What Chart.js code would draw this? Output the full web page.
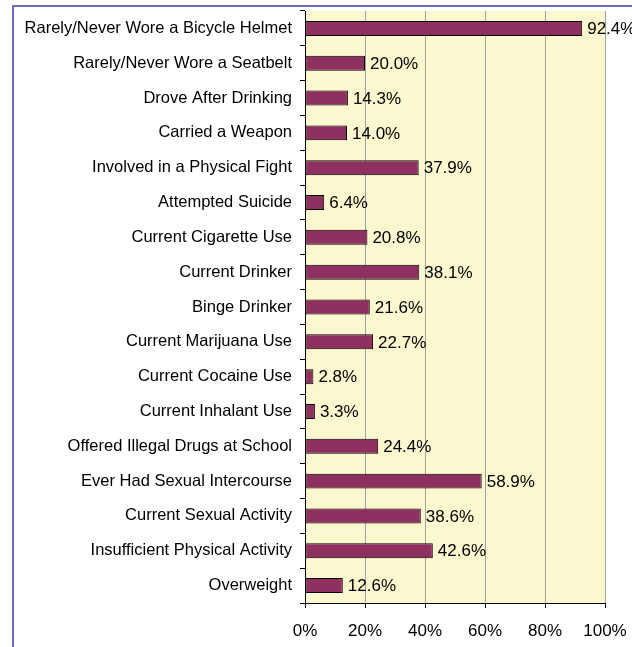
<!DOCTYPE html>
<html>
<head>
<meta charset="utf-8">
<script src="https://cdn.jsdelivr.net/npm/chart.js@4/dist/chart.umd.min.js"></script>
<style>
  html, body { margin: 0; padding: 0; background: #ffffff; }
  #wrap { position: relative; width: 632px; height: 647px; overflow: hidden; }
  #frame { position: absolute; left: 12px; top: 5px; width: 700px; height: 700px;
           border-left: 2px solid #6b6bc0; border-top: 2px solid #6b6bc0; box-sizing: border-box; }
  canvas { position: absolute; left: 0; top: 0; }
</style>
</head>
<body>
<div id="wrap">
  <div id="frame"></div>
  <canvas id="c" width="632" height="647"></canvas>
</div>
<script>
const categories = [
  "Rarely/Never Wore a Bicycle Helmet",
  "Rarely/Never Wore a Seatbelt",
  "Drove After Drinking",
  "Carried a Weapon",
  "Involved in a Physical Fight",
  "Attempted Suicide",
  "Current Cigarette Use",
  "Current Drinker",
  "Binge Drinker",
  "Current Marijuana Use",
  "Current Cocaine Use",
  "Current Inhalant Use",
  "Offered Illegal Drugs at School",
  "Ever Had Sexual Intercourse",
  "Current Sexual Activity",
  "Insufficient Physical Activity",
  "Overweight"
];
const values = [92.4, 20.0, 14.3, 14.0, 37.9, 6.4, 20.8, 38.1, 21.6, 22.7, 2.8, 3.3, 24.4, 58.9, 38.6, 42.6, 12.6];
const xTickValues = [0, 20, 40, 60, 80, 100];

const FONT = "'Liberation Sans', Arial, sans-serif";

const plotBg = {
  id: 'plotBg',
  beforeDraw(chart) {
    const a = chart.chartArea, ctx = chart.ctx;
    ctx.save();
    ctx.fillStyle = '#fbf7cf';
    ctx.fillRect(a.left, a.top, a.right - a.left, a.bottom - a.top);
    ctx.restore();
  }
};

const valueLabels = {
  id: 'valueLabels',
  afterDatasetsDraw(chart) {
    const ctx = chart.ctx;
    const meta = chart.getDatasetMeta(0);
    ctx.save();
    ctx.font = '17px ' + FONT;
    ctx.fillStyle = '#000000';
    ctx.textAlign = 'left';
    ctx.textBaseline = 'middle';
    meta.data.forEach((bar, i) => {
      ctx.fillText(values[i].toFixed(1) + '%', bar.x + 5, bar.y + 1);
    });
    ctx.restore();
  }
};

new Chart(document.getElementById('c'), {
  type: 'bar',
  data: {
    labels: categories,
    datasets: [{
      data: values,
      backgroundColor: '#8e3060',
      borderColor: '#000000',
      borderWidth: 1,
      borderSkipped: false,
      barPercentage: 0.43,
      categoryPercentage: 1.0
    }]
  },
  options: {
    indexAxis: 'y',
    responsive: false,
    animation: false,
    layout: { padding: { top: 11, right: 27, left: 0, bottom: 0 } },
    plugins: { legend: { display: false }, tooltip: { enabled: false } },
    scales: {
      x: {
        min: 0, max: 100,
        afterBuildTicks(scale) { scale.ticks = xTickValues.map(v => ({ value: v })); },
        afterFit(scale) { scale.height = 44; scale.paddingLeft = 0; scale.paddingRight = 0; },
        ticks: {
          callback: v => v + '%',
          font: { family: FONT, size: 17 },
          color: '#000000',
          padding: 13,
          maxRotation: 0
        },
        grid: {
          color: '#a0a0a0',
          lineWidth: 1,
          tickColor: '#000000',
          tickLength: 5,
          drawTicks: true
        },
        border: { display: true, color: '#000000', width: 1 }
      },
      y: {
        afterFit(scale) { scale.width = 305; scale.paddingTop = 0; scale.paddingBottom = 0; },
        ticks: {
          font: { family: FONT, size: 16.5 },
          color: '#000000',
          padding: 8,
          autoSkip: false
        },
        grid: {
          offset: true,
          drawOnChartArea: false,
          tickColor: '#000000',
          tickLength: 5
        },
        border: { display: true, color: '#000000', width: 1 }
      }
    }
  },
  plugins: [plotBg, valueLabels]
});
</script>
</body>
</html>
